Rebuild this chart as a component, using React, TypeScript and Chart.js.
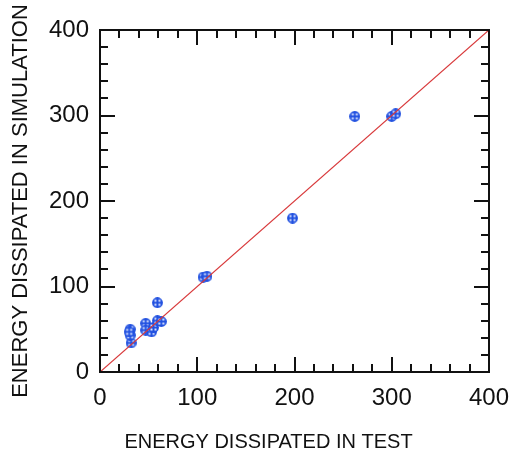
import React, { useEffect, useRef } from 'react';
import { Chart, registerables } from 'chart.js';

Chart.register(...registerables);

// Energy dissipated in test (x) vs in simulation (y)
const testEnergy = [32, 31, 31, 30, 47, 47, 53, 55, 59, 63, 59, 106, 110, 198, 262, 300, 304];
const simEnergy = [34, 43, 50, 47, 57, 49, 47, 52, 60, 59, 81, 111, 112, 180, 299, 299, 302];
const identityX = [0, 400];
const identityY = [0, 400];
const axisMin = 0;
const axisMax = 400;
const majorStep = 100;
const minorStep = 20;
const xTitle = 'ENERGY DISSIPATED IN TEST';
const yTitle = 'ENERGY DISSIPATED IN SIMULATION';

const FONT = '"Liberation Sans", Arial, sans-serif';

function makeMarker(): HTMLCanvasElement {
  const c = document.createElement('canvas');
  c.width = 11;
  c.height = 11;
  const g = c.getContext('2d')!;
  g.fillStyle = '#2050e0';
  g.beginPath();
  g.arc(5.5, 5.5, 5.4, 0, Math.PI * 2);
  g.fill();
  g.fillStyle = '#dfe7ff';
  g.fillRect(2.5, 2.5, 2, 2);
  g.fillRect(6.5, 2.5, 2, 2);
  g.fillRect(2.5, 6.5, 2, 2);
  g.fillRect(6.5, 6.5, 2, 2);
  return c;
}

const frameTicks = {
  id: 'frameTicks',
  afterDatasetsDraw(chart: any) {
    const { ctx, chartArea, scales } = chart;
    const { left, right, top, bottom } = chartArea;
    const x = scales.x;
    const y = scales.y;
    ctx.save();
    ctx.strokeStyle = '#111';
    ctx.lineWidth = 2;
    ctx.strokeRect(left, top, right - left, bottom - top);
    ctx.beginPath();
    for (let v = axisMin; v <= axisMax; v += minorStep) {
      const len = v % majorStep === 0 ? 15 : 8;
      const px = Math.round(x.getPixelForValue(v));
      const py = Math.round(y.getPixelForValue(v));
      ctx.moveTo(px, bottom);
      ctx.lineTo(px, bottom - len);
      ctx.moveTo(px, top);
      ctx.lineTo(px, top + len);
      ctx.moveTo(left, py);
      ctx.lineTo(left + len, py);
      ctx.moveTo(right, py);
      ctx.lineTo(right - len, py);
    }
    ctx.stroke();
    // x axis title
    ctx.fillStyle = '#111';
    ctx.font = '20px ' + FONT;
    ctx.textAlign = 'center';
    ctx.textBaseline = 'middle';
    ctx.fillText(xTitle, (left + right) / 2 - 26, 442);
    ctx.restore();
  },
};

export default function App() {
  const ref = useRef<HTMLCanvasElement>(null);
  useEffect(() => {
    const marker = makeMarker();
    const chart = new Chart(ref.current!, {
      type: 'scatter',
      data: {
        datasets: [
          {
            label: 'Identity',
            data: identityX.map((v, i) => ({ x: v, y: identityY[i] })),
            showLine: true,
            borderColor: '#d8383a',
            borderWidth: 1.2,
            pointRadius: 0,
            order: 0,
          },
          {
            label: 'Energy',
            data: testEnergy.map((v, i) => ({ x: v, y: simEnergy[i] })),
            pointStyle: marker as any,
            pointRadius: 5.5,
            showLine: false,
            order: 1,
          },
        ],
      },
      options: {
        responsive: false,
        animation: false,
        layout: { padding: { left: 0, top: 30, right: 22, bottom: 0 } },
        plugins: { legend: { display: false }, tooltip: { enabled: false } },
        scales: {
          x: {
            type: 'linear',
            min: axisMin,
            max: axisMax,
            grid: { display: false, drawTicks: false, tickLength: 0 },
            border: { display: false },
            ticks: {
              stepSize: majorStep,
              color: '#111',
              font: { family: FONT, size: 24 },
              padding: 12,
              maxRotation: 0,
            },
            afterFit: (s: any) => {
              s.height = 83;
              s.paddingLeft = 0;
              s.paddingRight = 0;
            },
          },
          y: {
            type: 'linear',
            min: axisMin,
            max: axisMax,
            grid: { display: false, drawTicks: false, tickLength: 0 },
            border: { display: false },
            ticks: {
              stepSize: majorStep,
              color: '#111',
              font: { family: FONT, size: 24 },
              padding: 11,
            },
            title: {
              display: true,
              text: yTitle,
              color: '#111',
              font: { family: FONT, size: 22 },
              padding: { top: 8, bottom: 0 },
            },
            afterFit: (s: any) => {
              s.width = 100;
              s.paddingTop = 0;
              s.paddingBottom = 0;
            },
          },
        },
      },
      plugins: [frameTicks],
    });
    return () => chart.destroy();
  }, []);
  return (
    <div style={{ position: 'absolute', left: 0, top: 0, width: 511, height: 455, background: '#fff' }}>
      <canvas ref={ref} width={511} height={455} style={{ display: 'block' }} />
    </div>
  );
}
